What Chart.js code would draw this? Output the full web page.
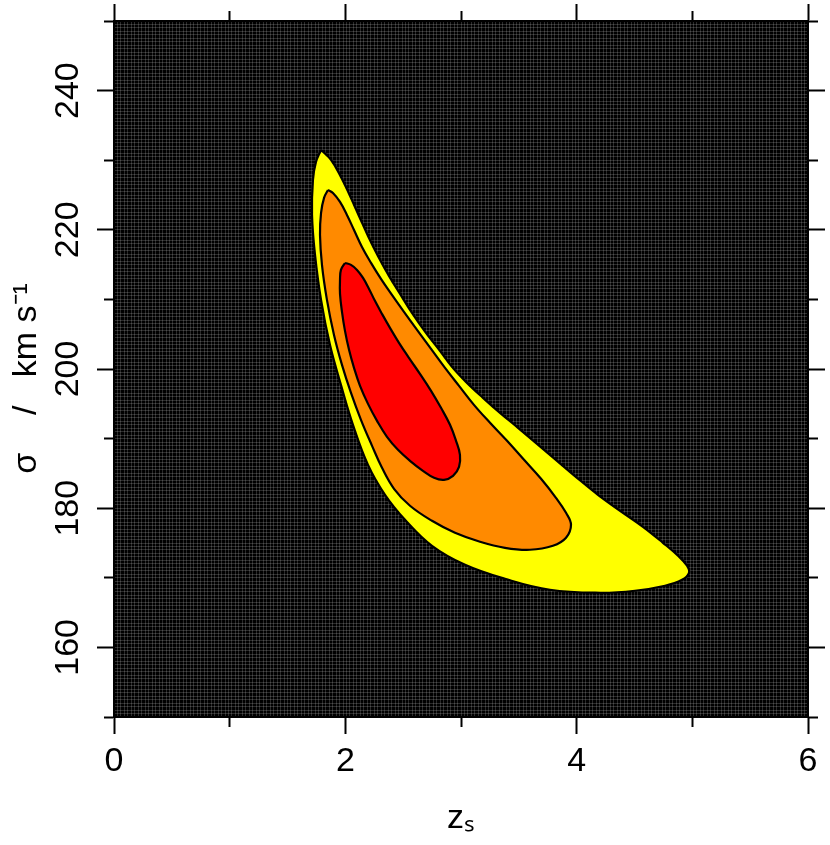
<!DOCTYPE html>
<html>
<head>
<meta charset="utf-8">
<script src="https://cdn.jsdelivr.net/npm/chart.js@4.4.1/dist/chart.umd.min.js"></script>
<style>
html,body{margin:0;padding:0;background:#ffffff;}
canvas{display:block;}
</style>
</head>
<body>
<canvas id="c" width="830" height="845"></canvas>
<script>
// ---- axis ranges and tick labels ----
const xRange = [0, 6];
const yRange = [150, 250];
const xMajorTicks = [0, 2, 4, 6];
const yMajorTicks = [160, 180, 200, 220, 240];
const xTitle = 'zₛ';
const yTitle = 'σ    /   km s⁻¹  ';

// ---- contour levels (outer = yellow, middle = orange, inner = red) ----
const yellowX = [1.790,1.876,1.962,2.040,2.118,2.196,2.282,2.377,2.473,2.576,2.697,2.818,2.922,3.043,3.190,3.337,3.493,3.657,3.830,4.003,4.184,4.375,4.573,4.746,4.876,4.954,4.971,4.911,4.764,4.504,4.202,3.769,3.380,3.035,2.749,2.516,2.343,2.196,2.066,1.962,1.867,1.790,1.738,1.712,1.720,1.746,1.790];
const yellowY = [231.47,230.04,227.60,224.87,221.99,219.12,216.25,213.38,210.79,208.06,205.19,202.61,200.31,198.15,195.86,193.70,191.55,189.25,186.81,184.37,181.93,179.63,177.33,175.03,173.17,171.73,170.72,169.72,168.86,168.14,167.85,168.28,169.86,171.87,174.60,178.34,181.93,186.23,191.98,197.72,203.47,209.93,216.39,222.14,227.16,229.75,231.47];

const orangeX = [1.850,1.893,1.954,2.014,2.075,2.144,2.222,2.308,2.403,2.507,2.620,2.741,2.862,2.983,3.112,3.251,3.398,3.545,3.692,3.821,3.908,3.951,3.908,3.795,3.596,3.380,3.164,2.948,2.749,2.559,2.421,2.317,2.231,2.135,2.049,1.971,1.902,1.841,1.798,1.781,1.790,1.816,1.850];
const orangeY = [225.73,225.30,224.01,222.14,219.98,217.54,215.24,212.95,210.65,208.21,205.62,202.89,200.16,197.58,194.85,192.27,189.68,186.95,184.22,181.49,179.34,177.62,175.75,174.60,174.03,174.31,175.18,176.47,178.19,180.35,182.79,185.80,188.96,192.70,196.57,200.60,204.90,209.93,214.96,219.27,222.43,224.58,225.73];

const redX = [1.997,2.049,2.101,2.153,2.205,2.256,2.317,2.386,2.464,2.550,2.645,2.741,2.827,2.905,2.957,2.991,2.983,2.931,2.853,2.767,2.671,2.559,2.455,2.360,2.274,2.196,2.127,2.075,2.032,1.997,1.971,1.954,1.954,1.962,1.997];
const redY = [215.24,214.96,214.24,213.09,211.51,209.79,207.92,205.91,203.76,201.60,199.30,196.86,194.42,191.98,189.68,187.67,185.95,184.65,184.08,184.37,185.37,186.81,188.39,190.26,192.55,194.99,197.58,200.16,202.75,205.48,208.21,210.79,212.80,214.24,215.24];

const FONT = "'Liberation Sans', Arial, Helvetica, sans-serif";
const toPts = (xs, ys) => xs.map((x, i) => ({x: x, y: ys[i]}));
const inList = (list, v) => list.some(m => Math.abs(m - v) < 1e-6);

// tick marks: major ones long, minor ones short (dash keeps the part next to the frame)
function tickGrid(majors, nearFirst) {
  const minor = ctx => ctx.tick && !inList(majors, ctx.tick.value);
  return {
    display: true,
    drawOnChartArea: false,
    drawTicks: true,
    tickLength: 17,
    tickWidth: 2,
    tickColor: '#000000',
    tickBorderDash: ctx => minor(ctx) ? [9, 100] : [],
    tickBorderDashOffset: ctx => (minor(ctx) && !nearFirst) ? 102 : 0
  };
}
const frame = {display: true, color: '#000000', width: 2};

const bgPlugin = {
  id: 'plotBackground',
  beforeDraw(chart) {
    const {ctx, chartArea: a} = chart;
    ctx.save();
    ctx.fillStyle = '#ffffff';
    ctx.fillRect(0, 0, chart.width, chart.height);
    ctx.fillStyle = '#000000';
    ctx.fillRect(a.left, a.top, a.right - a.left, a.bottom - a.top);
    ctx.restore();
  }
};

const contour = (xs, ys, color, order) => ({
  data: toPts(xs, ys),
  showLine: true,
  fill: 'shape',
  backgroundColor: color,
  borderColor: '#000000',
  borderWidth: 2.2,
  pointRadius: 0,
  pointHoverRadius: 0,
  tension: 0.4,
  order: order,
  xAxisID: 'x',
  yAxisID: 'y'
});

new Chart(document.getElementById('c'), {
  type: 'scatter',
  data: {
    datasets: [
      contour(yellowX, yellowY, '#ffff00', 3),
      contour(orangeX, orangeY, '#ff8a00', 2),
      contour(redX, redY, '#ff0000', 1)
    ]
  },
  options: {
    responsive: false,
    animation: false,
    devicePixelRatio: 1,
    layout: {padding: 0},
    plugins: {legend: {display: false}, tooltip: {enabled: false}, title: {display: false}},
    events: [],
    scales: {
      x: {
        type: 'linear', position: 'bottom', min: xRange[0], max: xRange[1],
        ticks: {
          stepSize: 1, autoSkip: false, maxRotation: 0, minRotation: 0, padding: 7,
          color: '#000000', font: {family: FONT, size: 34},
          callback: v => inList(xMajorTicks, v) ? String(v) : ''
        },
        grid: tickGrid(xMajorTicks, true),
        border: frame,
        title: {display: true, text: xTitle, color: '#000000', font: {family: FONT, size: 34}, padding: {top: 0, bottom: 6}},
        afterFit: s => { s.height = 128; }
      },
      x2: {
        type: 'linear', position: 'top', min: xRange[0], max: xRange[1],
        ticks: {stepSize: 1, autoSkip: false, display: false},
        grid: tickGrid(xMajorTicks, false),
        border: frame,
        afterFit: s => { s.height = 21; }
      },
      y: {
        type: 'linear', position: 'left', min: yRange[0], max: yRange[1],
        ticks: {
          stepSize: 10, autoSkip: false, minRotation: 90, maxRotation: 90, crossAlign: 'center', padding: 0,
          color: '#000000', font: {family: FONT, size: 34},
          callback: v => inList(yMajorTicks, v) ? String(v) : ''
        },
        grid: tickGrid(yMajorTicks, false),
        border: frame,
        title: {display: true, text: yTitle, color: '#000000', font: {family: FONT, size: 34}, padding: {top: 6, bottom: 0}},
        afterFit: s => { s.width = 114; }
      },
      y2: {
        type: 'linear', position: 'right', min: yRange[0], max: yRange[1],
        ticks: {stepSize: 10, autoSkip: false, display: false},
        grid: tickGrid(yMajorTicks, true),
        border: frame,
        afterFit: s => { s.width = 22; }
      },
      texX: {
        type: 'linear', axis: 'x', position: 'bottom', min: xRange[0], max: xRange[1], z: 1,
        ticks: {display: false, stepSize: 0.03, autoSkip: false},
        grid: {display: true, drawOnChartArea: true, drawTicks: false, color: 'rgba(255,255,255,0.17)', lineWidth: 1},
        border: {display: false},
        afterFit: s => { s.height = 0; }
      },
      texY: {
        type: 'linear', axis: 'y', position: 'left', min: yRange[0], max: yRange[1], z: 1,
        ticks: {display: false, stepSize: 0.5, autoSkip: false},
        grid: {display: true, drawOnChartArea: true, drawTicks: false, color: 'rgba(255,255,255,0.17)', lineWidth: 1},
        border: {display: false},
        afterFit: s => { s.width = 0; }
      }
    }
  },
  plugins: [bgPlugin]
});
</script>
</body>
</html>
